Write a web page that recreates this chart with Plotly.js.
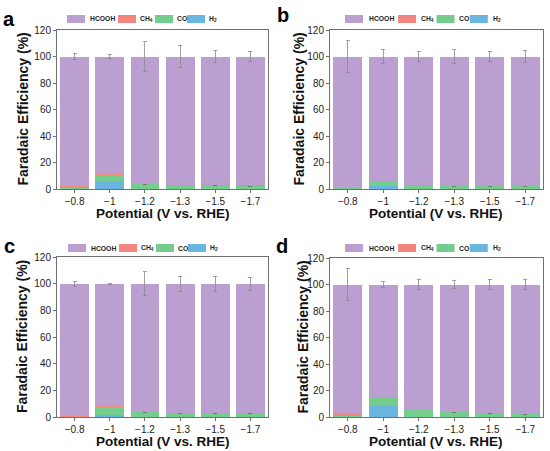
<!DOCTYPE html>
<html><head><meta charset="utf-8">
<script src="https://cdn.plot.ly/plotly-3.0.1.min.js"></script>
<style>body{margin:0;padding:0;background:#fff;overflow:hidden}#chart{width:550px;height:451px}</style>
</head><body><div id="chart"></div>
<script>
const categories = ["\u22120.8", "\u22121", "\u22121.2", "\u22121.3", "\u22121.5", "\u22121.7"];
const seriesNames = ["H<sub>2</sub>", "CO", "CH<sub>4</sub>", "HCOOH"];
const seriesColors = ["#6bb6e0", "#74cd8d", "#f4857f", "#bc9fd1"];
const panelLetters = ["a", "b", "c", "d"];
const xTitle = "Potential (V vs. RHE)";
const yTitle = "Faradaic Efficiency (%)";
const NA = NaN; // no error bar drawn

// panel a
const a_H2 = [0.1, 6.0, 0.3, 0.2, 0.2, 0.2];
const a_CO = [0.5, 4.5, 3.3, 2.8, 2.6, 2.4];
const a_CH4 = [1.6, 1.0, 0.1, 0.1, 0.1, 0.1];
const a_err = [2.5, 1.5, 11, 8.5, 4.5, 4];
const a_errCO = [NA, NA, 0.4, NA, 0.5, 0.5];
// panel b
const b_H2 = [0.1, 2.5, 0.2, 0.2, 0.2, 0.2];
const b_CO = [0.4, 3.5, 2.8, 2.3, 2.0, 2.0];
const b_CH4 = [0.5, 0.3, 0.1, 0.1, 0.1, 0.1];
const b_err = [12, 5.5, 4, 5, 4, 4.5];
const b_errCO = [NA, NA, NA, 0.5, 0.4, 0.4];
// panel c
const c_H2 = [0.1, 1.2, 0.3, 0.2, 0.2, 0.2];
const c_CO = [0.2, 6.5, 3.7, 2.9, 2.8, 2.8];
const c_CH4 = [0.7, 0.2, 0.1, 0.1, 0.1, 0.1];
const c_err = [2, 0.5, 9, 5.5, 5.5, 5];
const c_errCO = [NA, NA, 0.5, 0.4, 0.4, 0.4];
// panel d
const d_H2 = [0.1, 8.5, 0.3, 0.2, 0.2, 0.2];
const d_CO = [0.3, 6.5, 4.7, 3.3, 2.8, 2.3];
const d_CH4 = [1.5, 0.2, 0.1, 0.1, 0.1, 0.1];
const d_err = [12, 2, 4, 3, 4, 4];
const d_errCO = [NA, NA, NA, 0.4, 0.4, 0.5];

const panels = [
  {H2: a_H2, CO: a_CO, CH4: a_CH4, err: a_err, errCO: a_errCO},
  {H2: b_H2, CO: b_CO, CH4: b_CH4, err: b_err, errCO: b_errCO},
  {H2: c_H2, CO: c_CO, CH4: c_CH4, err: c_err, errCO: c_errCO},
  {H2: d_H2, CO: d_CO, CH4: d_CH4, err: d_err, errCO: d_errCO}
];

const W = 550, H = 451;
const FONT = "Arial, Liberation Sans, sans-serif";
const boxes = [
  {l: 57, r: 268, t: 30, b: 189, leg: 10, legS: 1.0, legY: 11, yt: 35, xt: 24.5},
  {l: 330, r: 543, t: 30, b: 189, leg: 15, legS: 1.04, legY: 11, yt: 32, xt: 24},
  {l: 57, r: 268, t: 257, b: 417, leg: 11, legS: 1.0, legY: 9, yt: 35, xt: 24},
  {l: 330, r: 543, t: 258, b: 417, leg: 15, legS: 1.04, legY: 10, yt: 28, xt: 24}
];
const letterPos = [[9, 19], [283, 15], [9, 246], [282, 246]];
// legend layout (px from legend start): rect starts and text starts, legend order HCOOH, CH4, CO, H2
const legRectX = [0, 51, 88, 120];
const legTextX = [21, 71, 108, 140];

const data = [];
const shapes = [];
const annotations = [];
const layout = {
  width: W, height: H, margin: {l: 0, r: 0, t: 0, b: 0},
  paper_bgcolor: "#fff", plot_bgcolor: "#fff",
  barmode: "stack", bargap: 0.18, showlegend: false,
  font: {family: FONT, color: "#222"},
  shapes: shapes, annotations: annotations
};
const px = x => x / W, py = y => 1 - y / H;

panels.forEach((p, i) => {
  const n = i === 0 ? "" : String(i + 1);
  const xa = "x" + n, ya = "y" + n;
  const hcooh = categories.map((_, k) => 100 - p.H2[k] - p.CO[k] - p.CH4[k]);
  const vals = [p.H2, p.CO, p.CH4, hcooh];
  vals.forEach((v, s) => {
    const tr = {
      type: "bar", x: categories, y: v, name: seriesNames[s],
      marker: {color: seriesColors[s], line: {width: 0}},
      xaxis: xa, yaxis: ya, hoverinfo: "skip"
    };
    if (s === 3) tr.error_y = {type: "data", array: p.err, visible: true, color: "#8a8a8a", thickness: 0.8, width: 2};
    if (s === 1) tr.error_y = {type: "data", array: p.errCO, visible: true, color: "#6a6a6a", thickness: 0.8, width: 2};
    data.push(tr);
  });
  const b = boxes[i];
  const axCommon = {
    showline: true, mirror: true, linecolor: "#707070", linewidth: 1,
    showgrid: false, zeroline: false, ticks: "outside", ticklen: 3, tickwidth: 1, tickcolor: "#707070",
    tickfont: {size: 10, color: "#222", family: FONT}
  };
  layout["xaxis" + n] = Object.assign({}, axCommon, {
    domain: [px(b.l), px(b.r)], anchor: ya, type: "category"
  });
  layout["yaxis" + n] = Object.assign({}, axCommon, {
    domain: [py(b.b), py(b.t)], anchor: xa, range: [0, 120], dtick: 20
  });
  annotations.push({
    text: "<b>" + xTitle + "</b>", xref: "paper", yref: "paper",
    x: px((b.l + b.r) / 2), y: py(b.b + b.xt), xanchor: "center", yanchor: "middle",
    showarrow: false, font: {size: 13.5, color: "#111", family: FONT}
  });
  annotations.push({
    text: "<b>" + yTitle + "</b>", xref: "paper", yref: "paper", textangle: -90,
    x: px(b.l - b.yt), y: py((b.t + b.b) / 2), xanchor: "center", yanchor: "middle",
    showarrow: false, font: {size: 14, color: "#111", family: FONT}
  });
  const legOrder = [3, 2, 1, 0];
  const ly = b.t - b.legY;
  legOrder.forEach((s, j) => {
    const x0 = b.l + b.leg + legRectX[j] * b.legS;
    shapes.push({
      type: "rect", xref: "paper", yref: "paper",
      x0: px(x0), x1: px(x0 + 18), y0: py(ly + 4), y1: py(ly - 4),
      fillcolor: seriesColors[s], line: {width: 0}
    });
    annotations.push({
      text: "<b>" + seriesNames[s] + "</b>", xref: "paper", yref: "paper",
      x: px(b.l + b.leg + legTextX[j] * b.legS), y: py(ly), xanchor: "left", yanchor: "middle",
      showarrow: false, font: {size: 6.8, color: "#222", family: FONT}
    });
  });
  annotations.push({
    text: "<b>" + panelLetters[i] + "</b>", xref: "paper", yref: "paper",
    x: px(letterPos[i][0]), y: py(letterPos[i][1]), xanchor: "center", yanchor: "middle",
    showarrow: false, font: {size: 20, color: "#000", family: FONT}
  });
});

Plotly.newPlot("chart", data, layout, {staticPlot: true, displayModeBar: false});
</script></body></html>
